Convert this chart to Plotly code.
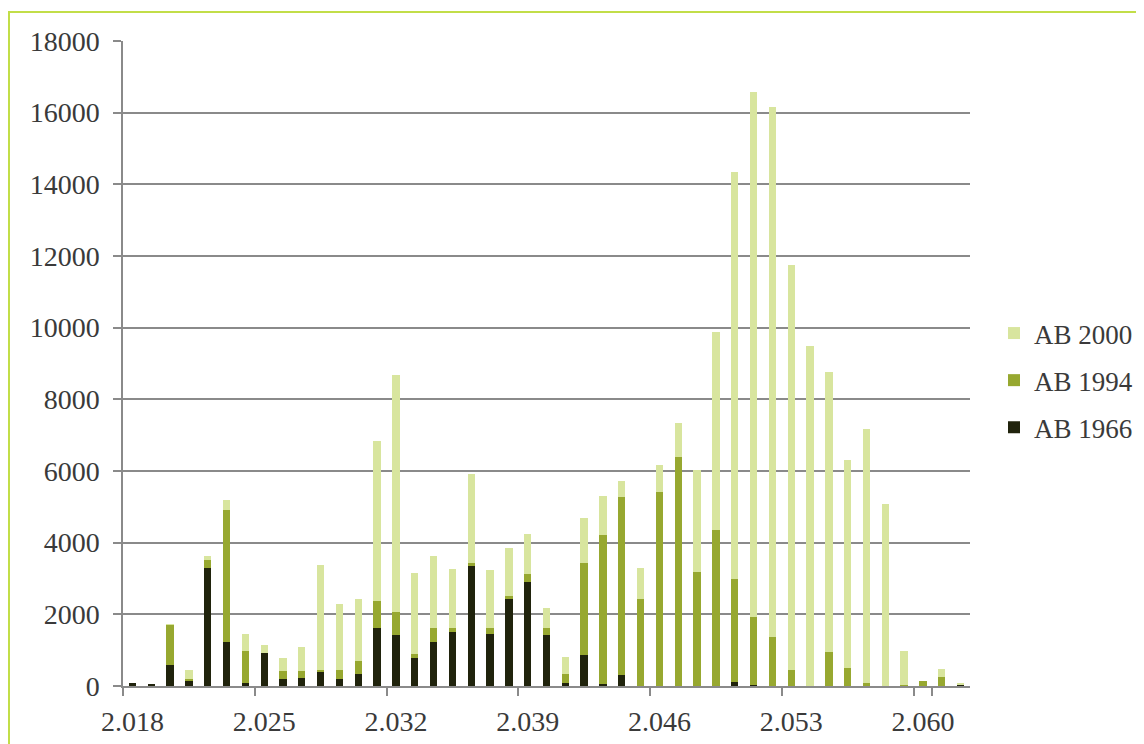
import plotly.graph_objects as go

years = list(range(2018, 2063))
ab1966 = [80, 60, 600, 130, 3300, 1240, 90, 930, 205, 235, 400, 190, 345, 1630, 1430,
          780, 1240, 1520, 3360, 1460, 2440, 2900, 1430, 85, 875, 55, 300, 0, 0, 0,
          0, 0, 120, 40, 0, 0, 0, 0, 0, 0, 0, 0, 0, 0, 30]
ab1994 = [0, 0, 1110, 65, 210, 3670, 890, 0, 215, 185, 45, 250, 355, 740, 640,
          110, 390, 110, 65, 160, 75, 235, 195, 260, 2550, 4170, 4985, 2440, 5420, 6390,
          3180, 4350, 2870, 1880, 1370, 460, 0, 945, 495, 85, 0, 30, 130, 240, 0]
ab2000 = [0, 0, 10, 260, 110, 270, 465, 205, 360, 670, 2920, 1840, 1740, 4480, 6610,
          2260, 2000, 1640, 2490, 1610, 1350, 1110, 550, 455, 1270, 1080, 445, 865, 745, 955,
          2860, 5530, 11350, 14670, 14800, 11300, 9480, 7805, 5800, 7085, 5070, 950, 0, 225, 30]

labels = [f"{y:,}".replace(",", ".") for y in years]
shown = labels[::7]

FONT = "Liberation Serif"
TXT = "#3a3a3a"
GRID = "#8a8a8a"
FS = 28

fig = go.Figure()
series = [("AB 1966", ab1966, "#20230c", 3),
          ("AB 1994", ab1994, "#97a830", 2),
          ("AB 2000", ab2000, "#d8e59e", 1)]
for name, vals, col, rank in series:
    fig.add_trace(go.Bar(x=labels, y=vals, name=name, legendgroup=name, legendrank=rank,
                         marker=dict(color=col, line=dict(width=0))))

# page has an 8px body margin: figure pixel = page pixel - 8
W, H = 1136, 736
pw, ph = 847, 645
l, t = 115, 33
fig.update_layout(
    width=W, height=H,
    margin=dict(l=l, r=W - l - pw, t=t, b=H - t - ph, pad=0, autoexpand=False),
    barmode="stack", bargap=0.61,
    plot_bgcolor="white", paper_bgcolor="white",
    font=dict(family=FONT, size=FS, color=TXT),
    legend=dict(x=(986 - l) / pw, xanchor="left", y=(t + ph - 325 + 24) / ph, yanchor="top",
                traceorder="grouped", tracegroupgap=9,
                font=dict(family=FONT, size=27, color=TXT), bgcolor="rgba(0,0,0,0)"),
    xaxis=dict(type="category", range=[-0.5, 44.5], tickmode="array", tickvals=shown,
               ticktext=shown, tickson="boundaries", ticks="outside", ticklen=8,
               tickangle=0, automargin=False,
               tickcolor=GRID, tickwidth=1.5, showgrid=False, showline=True,
               linecolor=GRID, linewidth=1.5, ticklabelstandoff=10,
               tickfont=dict(family=FONT, size=FS, color=TXT)),
    yaxis=dict(range=[0, 18000], dtick=2000, tickformat="d", ticks="outside", ticklen=8,
               automargin=False,
               tickcolor=GRID, tickwidth=1.5, showgrid=True, gridcolor=GRID, gridwidth=1.5,
               showline=True, linecolor=GRID, linewidth=1.5, zeroline=False,
               ticklabelstandoff=8,
               tickfont=dict(family=FONT, size=FS, color=TXT)),
    shapes=[dict(type="rect", xref="paper", yref="paper",
                 x0=(1 - l) / pw, x1=(1160 - l) / pw,
                 y0=(t + ph - 770) / ph, y1=(t + ph - 4) / ph,
                 line=dict(color="#c2de48", width=2), fillcolor="rgba(0,0,0,0)",
                 layer="below")],
)

fig.write_html("out.html")
